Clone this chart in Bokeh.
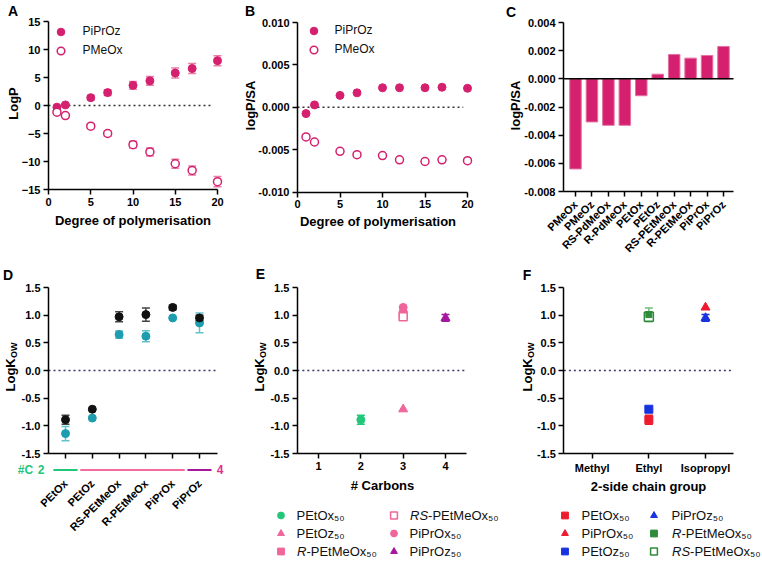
import math
from bokeh.plotting import figure
from bokeh.models import (Range1d, FixedTicker, NumeralTickFormatter, Label, Legend,
                          LegendItem, Whisker, TeeHead, ColumnDataSource, BoxAnnotation)
from bokeh.layouts import column, row
from bokeh.embed import file_html
from bokeh.resources import INLINE

FONT = "Liberation Sans"

# ---------------- data ----------------
dp = [1, 2, 5, 7, 10, 12, 15, 17, 20]
logp_piproz = [-0.3, 0.1, 1.4, 2.3, 3.6, 4.4, 5.8, 6.6, 8.0]
logp_piproz_err = [0.2, 0.2, 0.4, 0.5, 0.7, 0.8, 0.9, 0.9, 0.9]
logp_pmeox = [-1.2, -1.8, -3.7, -5.0, -7.0, -8.3, -10.4, -11.6, -13.6]
logp_pmeox_err = [0.2, 0.3, 0.4, 0.5, 0.6, 0.7, 0.8, 0.8, 0.9]
sa_piproz = [-0.00075, 0.00028, 0.0014, 0.0017, 0.0023, 0.0023, 0.0023, 0.00236, 0.00224]
sa_pmeox = [-0.0035, -0.0041, -0.0052, -0.0056, -0.0057, -0.0062, -0.0064, -0.0062, -0.0063]

polymers_c = ["PMeOx", "PMeOz", "RS-PdMeOx", "R-PdMeOx", "PEtOx", "PEtOz",
              "RS-PEtMeOx", "R-PEtMeOx", "PiPrOx", "PiPrOz"]
sa_c = [-0.0064, -0.00306, -0.0033, -0.0033, -0.0012, 0.00033, 0.00173, 0.00147, 0.00166, 0.0023]

polymers_d = ["PEtOx", "PEtOz", "RS-PEtMeOx", "R-PEtMeOx", "PiPrOx", "PiPrOz"]
logkow_black = [-0.89, -0.70, 0.97, 1.01, 1.14, 0.95]
logkow_black_err = [0.08, 0.0, 0.09, 0.12, 0.04, 0.05]
logkow_teal = [-1.14, -0.86, 0.65, 0.62, 0.95, 0.86]
logkow_teal_err = [0.13, 0.0, 0.065, 0.10, 0.0, 0.18]
carbons_d = [2, 3, 3, 3, 3, 4]
carbon_ticks = [1, 2, 3, 4]
side_chains = ["Methyl", "Ethyl", "Isopropyl"]

# panel E (x = number of carbons)
e_petox = ([2], [-0.89], [0.08])
e_petoz = ([3], [-0.70])
e_r = ([3], [1.01])
e_rs = ([3], [0.97])
e_piprox = ([3], [1.14])
e_piproz = ([4], [0.95], [0.06])
# panel F (x = side chain group: 1 Methyl, 2 Ethyl, 3 Isopropyl)
f_petox = ([2], [-0.89], [0.08])
f_piprox = ([3], [1.14])
f_petoz = ([2], [-0.70])
f_piproz = ([3], [0.95], [0.06])
f_r = ([2], [1.01], [0.12])
f_rs = ([2], [0.97], [0.09])

logp_ticks = [-15, -10, -5, 0, 5, 10, 15]
dp_ticks = [0, 5, 10, 15, 20]
sa_ticks_b = [-0.01, -0.005, 0, 0.005, 0.01]
sa_ticks_c = [-0.008, -0.006, -0.004, -0.002, 0, 0.002, 0.004]
kow_ticks = [-1.5, -1.0, -0.5, 0, 0.5, 1.0, 1.5]

MAG = "#D4206E"
MAG_ERR = "#E77FAA"
BLACK = "#111111"
TEAL = "#1E9DB0"
TEAL_ERR = "#62C2CA"
GREEN = "#22C77A"
PINK = "#F0659A"
PURPLE = "#A4189F"
RED = "#EE1B2E"
BLUE = "#1733E0"
DGREEN = "#2E8B3A"

H1, H2 = 262, 299


def lin(v0, p0, v1, p1):
    k = (v1 - v0) / (p1 - p0)
    return lambda p: v0 + (p - p0) * k


def geom(ox, oy, w, h, xcal, ycal):
    fx = lin(*xcal)
    fy = lin(*ycal)
    return dict(ox=ox, oy=oy, w=w, h=h, fx=fx, fy=fy,
                xr=(fx(ox), fx(ox + w)), yr=(fy(oy + h), fy(oy)),
                m=lambda gx, gy: (fx(gx), fy(gy)))


def make_fig(g, xb, yb):
    p = figure(width=g["w"], height=g["h"], x_range=Range1d(*g["xr"]), y_range=Range1d(*g["yr"]),
               min_border_left=0, min_border_right=0, min_border_top=0, min_border_bottom=0,
               output_backend="svg", toolbar_location=None)
    p.xgrid.visible = False
    p.ygrid.visible = False
    p.outline_line_color = None
    p.xaxis.fixed_location = yb[0]
    p.yaxis.fixed_location = xb[0]
    p.xaxis.bounds = xb
    p.yaxis.bounds = yb
    for ax in list(p.xaxis) + list(p.yaxis):
        ax.axis_line_width = 1.5
        ax.axis_line_color = "black"
        ax.major_tick_line_width = 1.5
        ax.major_tick_line_color = "black"
        ax.major_tick_out = 5
        ax.major_tick_in = 0
        ax.minor_tick_line_color = None
        ax.major_label_text_font = FONT
        ax.major_label_text_font_style = "bold"
        ax.major_label_text_font_size = "11px"
        ax.major_label_text_color = "black"
        ax.major_label_standoff = 3
    return p


def txt(p, g, gx, gy, text, size="13px", style="bold", color="black", angle=0.0,
        align="center", baseline="middle"):
    x, y = g["m"](gx, gy)
    p.add_layout(Label(x=x, y=y, text=text, text_font=FONT, text_font_size=size,
                       text_font_style=style, text_color=color, angle=angle,
                       text_align=align, text_baseline=baseline))


def add_err(p, xs, ys, errs, color, cap=8):
    b, u, l = [], [], []
    for x, y, e in zip(xs, ys, errs):
        if e > 0:
            b.append(x)
            u.append(y + e)
            l.append(y - e)
    src = ColumnDataSource(dict(base=b, upper=u, lower=l))
    p.add_layout(Whisker(base="base", upper="upper", lower="lower", source=src, line_color=color,
                         line_width=1.5,
                         upper_head=TeeHead(size=cap, line_color=color, line_width=1.5),
                         lower_head=TeeHead(size=cap, line_color=color, line_width=1.5)))


def add_legend(p, g, items, gleft, gtop, gw, row_h, standoff, fsize):
    """items: (label, renderer) or ((italic_prefix, rest), renderer)"""
    h = len(items) * row_h
    vx = gleft - g["ox"]
    vy = (g["oy"] + g["h"]) - (gtop + h)
    litems = []
    text_x = gleft + gw + standoff
    fs = float(fsize.replace("px", ""))
    for k, (t, r) in enumerate(items):
        if isinstance(t, tuple):
            pre, rest = t
            litems.append(LegendItem(label=" ", renderers=[r]))
            cy = gtop + row_h * (k + 0.5)
            txt(p, g, text_x, cy, pre, fsize, style="italic", color="#111111", align="left")
            wpre = {"R": 0.722, "RS": 1.389}[pre] * fs
            txt(p, g, text_x + wpre, cy, rest, fsize, style="normal", color="#111111",
                align="left")
        else:
            litems.append(LegendItem(label=t, renderers=[r]))
    p.add_layout(Legend(items=litems, location=(vx, vy), padding=0, margin=0, spacing=0,
                        border_line_color=None, background_fill_alpha=0,
                        glyph_width=int(gw), glyph_height=int(row_h), label_height=int(row_h),
                        label_standoff=int(round(standoff)), label_text_font=FONT,
                        label_text_font_size=fsize, label_text_color="#111111"))


def hline(p, xb, color, dash):
    p.segment(x0=[xb[0]], x1=[xb[1]], y0=[0], y1=[0], line_color=color, line_width=1.5,
              line_dash=dash)


# ---------------- geometry (data value -> global pixel calibration) ----------------
gA = geom(0, 0, 238, H1, (0, 48, 20, 217), (-15, 189, 15, 21))
gB = geom(238, 0, 262, H1, (0, 297, 20, 467), (-0.01, 191.5, 0.01, 22))
gC = geom(500, 0, 262, H1, (0, 575, 9, 723), (-0.008, 191, 0.004, 22))
gD = geom(0, H1, 250, H2, (0, 65, 5, 199), (-1.5, 453, 1.5, 287))
gE = geom(250, H1, 250, H2, (1, 318, 4, 445), (-1.5, 453, 1.5, 287))
gF = geom(500, H1, 262, H2, (1, 591.7, 3, 705), (-1.5, 453, 1.5, 287))

# ---------------- A ----------------
pA = make_fig(gA, (0, 20), (-15, 15))
pA.xaxis.ticker = FixedTicker(ticks=dp_ticks)
pA.yaxis.ticker = FixedTicker(ticks=logp_ticks)
hline(pA, (0, 19.5), "#333333", "2 3")
add_err(pA, dp, logp_piproz, logp_piproz_err, MAG_ERR)
add_err(pA, dp, logp_pmeox, logp_pmeox_err, MAG_ERR)
rA1 = pA.scatter(dp, logp_piproz, marker="circle", size=8, fill_color=MAG, line_color=MAG)
rA2 = pA.scatter(dp, logp_pmeox, marker="circle", size=8, fill_color="white", line_color=MAG,
                 line_width=1.5)
add_legend(pA, gA, [("PiPrOz", rA1), ("PMeOx", rA2)], 50.5, 21.5, 19, 19, 13, "12px")
txt(pA, gA, 12.5, 10.5, "A", "14px")
txt(pA, gA, 13, 103, "LogP", angle=math.pi / 2)
txt(pA, gA, 132.5, 220, "Degree of polymerisation")

# ---------------- B ----------------
pB = make_fig(gB, (0, 20), (-0.01, 0.01))
pB.xaxis.ticker = FixedTicker(ticks=dp_ticks)
pB.yaxis.ticker = FixedTicker(ticks=sa_ticks_b)
pB.yaxis.formatter = NumeralTickFormatter(format="0.000")
hline(pB, (0, 19.5), "#333333", "2 3")
rB1 = pB.scatter(dp, sa_piproz, marker="circle", size=8, fill_color=MAG, line_color=MAG)
rB2 = pB.scatter(dp, sa_pmeox, marker="circle", size=8, fill_color="white", line_color=MAG,
                 line_width=1.5)
add_legend(pB, gB, [("PiPrOz", rB1), ("PMeOx", rB2)], 303.5, 20.5, 19, 19, 12, "12px")
txt(pB, gB, 249.5, 10.5, "B", "14px")
txt(pB, gB, 249.5, 105, "logP/SA", angle=math.pi / 2)
txt(pB, gB, 377.5, 221, "Degree of polymerisation")

# ---------------- C ----------------
xc = list(range(len(polymers_c)))
xbC = (gC["fx"](563), gC["fx"](733))
pC = make_fig(gC, xbC, (-0.008, 0.004))
pC.xaxis.ticker = FixedTicker(ticks=xc)
pC.xaxis.major_label_overrides = {i: n for i, n in zip(xc, polymers_c)}
pC.xaxis.major_label_orientation = math.pi / 4
pC.xaxis.major_label_standoff = 6
pC.yaxis.ticker = FixedTicker(ticks=sa_ticks_c)
pC.yaxis.formatter = NumeralTickFormatter(format="0.000")
pC.vbar(x=xc, top=sa_c, bottom=0, width=0.7, fill_color=MAG, line_color="#E472A2", line_width=1)
hline(pC, xbC, "black", "solid")
txt(pC, gC, 510.5, 11, "C", "14px")
txt(pC, gC, 515, 105, "logP/SA", angle=math.pi / 2)

# ---------------- D ----------------
xd = list(range(len(polymers_d)))
xbD = (gD["fx"](48), gD["fx"](217))
pD = make_fig(gD, xbD, (-1.5, 1.5))
pD.xaxis.ticker = FixedTicker(ticks=xd)
pD.xaxis.major_label_overrides = {i: n for i, n in zip(xd, polymers_d)}
pD.xaxis.major_label_orientation = math.pi / 4
pD.xaxis.major_label_standoff = 23
pD.yaxis.ticker = FixedTicker(ticks=kow_ticks)
pD.yaxis.formatter = NumeralTickFormatter(format="0.0")
hline(pD, xbD, "#3A3A66", "2 3")
add_err(pD, xd, logkow_teal, logkow_teal_err, TEAL_ERR)
add_err(pD, xd, logkow_black, logkow_black_err, "#444444")
pD.scatter(xd, logkow_teal, marker="circle", size=8, fill_color=TEAL, line_color=TEAL)
pD.scatter(xd, logkow_black, marker="circle", size=8, fill_color=BLACK, line_color=BLACK)
group_colors = {2: GREEN, 3: "#F36BA0", 4: PURPLE}
for c, col in group_colors.items():
    idx = [i for i, cc in enumerate(carbons_d) if cc == c]
    pD.add_layout(BoxAnnotation(left=min(idx) - 0.45, right=max(idx) + 0.45,
                                top=gD["fy"](468.5), bottom=gD["fy"](470.5),
                                fill_color=col, fill_alpha=1, line_color=None))
txt(pD, gD, 25, 469, "#C", "12px", color=GREEN)
txt(pD, gD, 40.5, 469, "2", "12px", color=GREEN)
txt(pD, gD, 219.5, 469, "4", "12px", color="#E0308C")
txt(pD, gD, 7.5, 274, "D", "14px")
txt(pD, gD, 10, 391, "LogK", angle=math.pi / 2, align="left")
txt(pD, gD, 13.5, 357.5, "OW", "9px", angle=math.pi / 2, align="left")

# ---------------- E ----------------
xbE = (0.5, 4.5)
pE = make_fig(gE, xbE, (-1.5, 1.5))
pE.xaxis.ticker = FixedTicker(ticks=carbon_ticks)
pE.yaxis.ticker = FixedTicker(ticks=kow_ticks)
pE.yaxis.formatter = NumeralTickFormatter(format="0.0")
hline(pE, xbE, "#3A3A66", "2 3")
add_err(pE, *e_petox, GREEN)
add_err(pE, *e_piproz, PURPLE)
rE1 = pE.scatter(e_petox[0], e_petox[1], marker="circle", size=8, fill_color=GREEN, line_color=GREEN)
rE2 = pE.scatter(*e_petoz, marker="triangle", size=9, fill_color=PINK, line_color=PINK)
rE3 = pE.scatter(*e_r, marker="square", size=8, fill_color=PINK, line_color=PINK)
rE4 = pE.scatter(*e_rs, marker="square", size=8, fill_color="white", line_color=PINK, line_width=1.5)
rE5 = pE.scatter(*e_piprox, marker="circle", size=8, fill_color=PINK, line_color=PINK)
rE6 = pE.scatter(e_piproz[0], e_piproz[1], marker="triangle", size=9, fill_color=PURPLE,
                 line_color=PURPLE)
add_legend(pE, gE, [("PEtOx₅₀", rE1), ("PEtOz₅₀", rE2), (("R", "-PEtMeOx₅₀"), rE3)],
           271.5, 506, 17, 18, 8, "13px")
add_legend(pE, gE, [(("RS", "-PEtMeOx₅₀"), rE4), ("PiPrOx₅₀", rE5), ("PiPrOz₅₀", rE6)],
           384.5, 506, 17, 18, 8, "13px")
txt(pE, gE, 260, 273, "E", "14px")
txt(pE, gE, 259, 391, "LogK", angle=math.pi / 2, align="left")
txt(pE, gE, 262.5, 357.5, "OW", "9px", angle=math.pi / 2, align="left")
txt(pE, gE, 382, 485, "# Carbons")

# ---------------- F ----------------
xbF = (0.5, 3.5)
xf = [1, 2, 3]
pF = make_fig(gF, xbF, (-1.5, 1.5))
pF.xaxis.ticker = FixedTicker(ticks=xf)
pF.xaxis.major_label_overrides = {i: n for i, n in zip(xf, side_chains)}
pF.yaxis.ticker = FixedTicker(ticks=kow_ticks)
pF.yaxis.formatter = NumeralTickFormatter(format="0.0")
hline(pF, xbF, "#3A3A66", "2 3")
add_err(pF, *f_petox, RED)
add_err(pF, *f_piproz, BLUE)
add_err(pF, *f_r, "#6FBF7A")
add_err(pF, *f_rs, "#6FBF7A")
rF1 = pF.scatter(f_petox[0], f_petox[1], marker="square", size=8, fill_color=RED, line_color=RED)
rF2 = pF.scatter(*f_piprox, marker="triangle", size=9, fill_color=RED, line_color=RED)
rF3 = pF.scatter(*f_petoz, marker="square", size=8, fill_color=BLUE, line_color=BLUE)
rF4 = pF.scatter(f_piproz[0], f_piproz[1], marker="triangle", size=9, fill_color=BLUE, line_color=BLUE)
rF6 = pF.scatter(f_rs[0], f_rs[1], marker="square", size=9, fill_color="white", line_color=DGREEN,
                 line_width=1.5)
rF5 = pF.scatter(f_r[0], f_r[1], marker="square", size=6, fill_color=DGREEN, line_color=DGREEN)
add_legend(pF, gF, [("PEtOx₅₀", rF1), ("PiPrOx₅₀", rF2), ("PEtOz₅₀", rF3)],
           555.5, 506, 17, 18, 9, "13px")
add_legend(pF, gF, [("PiPrOz₅₀", rF4), (("R", "-PEtMeOx₅₀"), rF5), (("RS", "-PEtMeOx₅₀"), rF6)],
           644.5, 506, 17, 18, 10, "13px")
txt(pF, gF, 526.5, 274, "F", "14px")
txt(pF, gF, 527, 391, "LogK", angle=math.pi / 2, align="left")
txt(pF, gF, 530.5, 357.5, "OW", "9px", angle=math.pi / 2, align="left")
txt(pF, gF, 648, 486, "2-side chain group")

layout = column(row(pA, pB, pC), row(pD, pE, pF))
open("out.html", "w").write(file_html(layout, INLINE, title="logP panels"))
